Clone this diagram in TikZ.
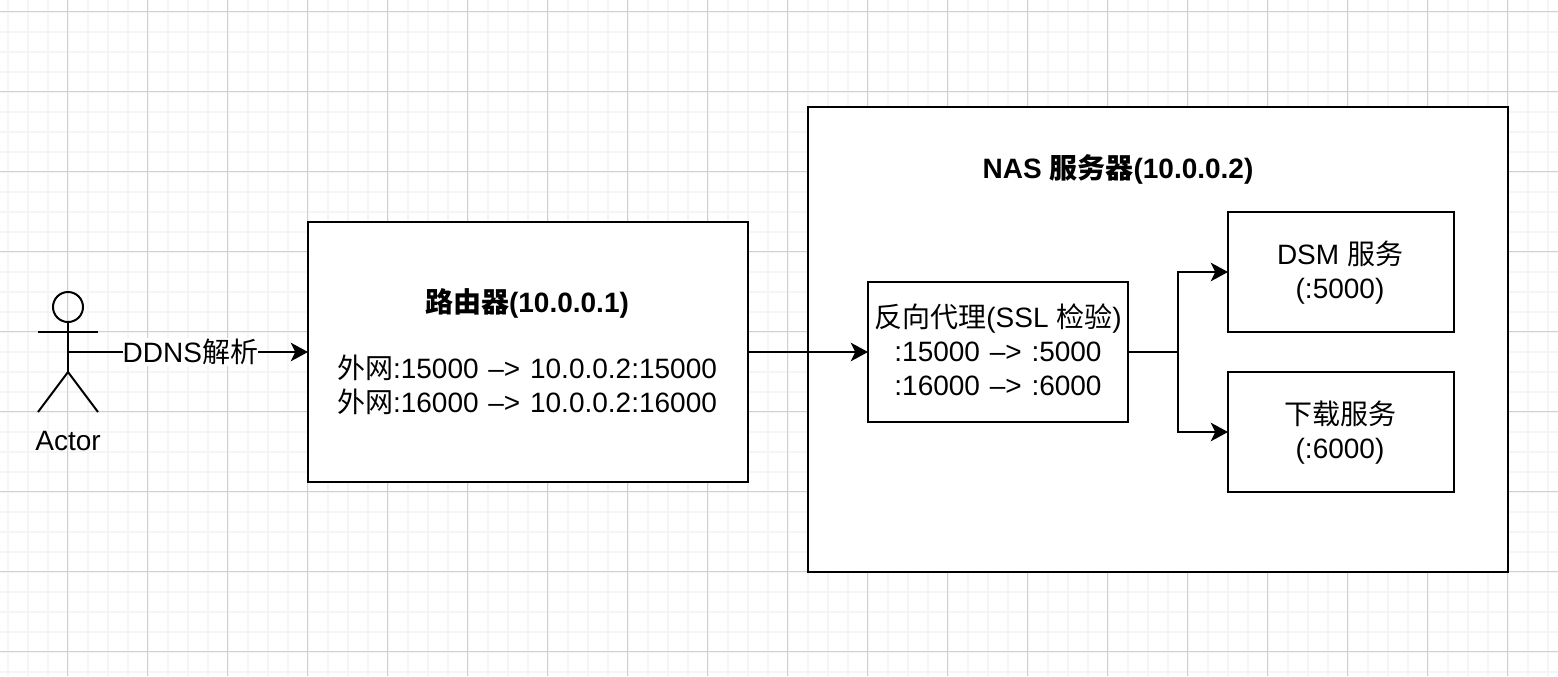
\documentclass[tikz,border=0pt]{standalone}
\usepackage{fontspec}
\setmainfont{Liberation Sans}
\newfontfamily\cjk{Noto Sans CJK SC}
\usetikzlibrary{arrows.meta}
\newcommand{\portarrow}{\hspace{1.5pt}–>\hspace{1.5pt}}
\tikzset{every picture/.style={line width=0.75pt}}
\tikzset{
  boxnode/.style={draw=black,line width=1.5pt,fill=white,inner sep=0pt,outer sep=0pt,align=center,
    font=\fontsize{21}{25.5}\selectfont},
  textnode/.style={inner sep=0pt,outer sep=0pt,align=center,font=\fontsize{21}{25.5}\selectfont},
  linkline/.style={line width=1.5pt,-{Stealth[length=13pt,width=14pt,inset=3.5pt]}},
  plainline/.style={line width=1.5pt}
}
\begin{document}
\begin{tikzpicture}[x=0.75pt,y=0.75pt,yscale=-1,xscale=1]
\useasboundingbox (0,0) rectangle (1558,676);
\fill[white] (0,0) rectangle (1558,676);

%minor grid
\foreach \gx in {7,27,...,1547}
  \draw[color={rgb, 255:red, 245; green, 245; blue, 245},line width=1.5pt] (\gx.5,0) -- (\gx.5,676);
\foreach \gy in {11,31,...,671}
  \draw[color={rgb, 255:red, 245; green, 245; blue, 245},line width=1.5pt] (0,\gy.5) -- (1558,\gy.5);
%major grid
\foreach \gx in {67,147,...,1547}
  \draw[color={rgb, 255:red, 208; green, 208; blue, 208},line width=0.75pt] (\gx.5,0) -- (\gx.5,676);
\foreach \gy in {11,91,...,651}
  \draw[color={rgb, 255:red, 208; green, 208; blue, 208},line width=0.75pt] (0,\gy.5) -- (1558,\gy.5);

%Shape: Actor
\node (actorhead) [circle,draw=black,line width=1.5pt,minimum size=22.5pt,inner sep=0pt,outer sep=0pt] at (68,307) {};
\coordinate (actorhip) at (68,372);
\coordinate (actormid) at (68,352);
\coordinate (actorarml) at (38,332);
\coordinate (actorarmr) at (98,332);
\coordinate (actorlegl) at (38,412);
\coordinate (actorlegr) at (98,412);
\draw[plainline] (actorhead.south) -- (actorhip);
\draw[plainline] (actorarml) -- (actorarmr);
\draw[plainline] (actorlegl) -- (actorhip) -- (actorlegr);

% Text Node
\node (actorlabel) [textnode] at (68,441) {Actor};

%Shape: Rectangle
\node (nasbox) [boxnode,minimum width=525pt,minimum height=348.75pt] at (1158,339.5) {};
\node (routerbox) [boxnode,minimum width=330pt,minimum height=195pt] at (528,352) {};
\node (routertext) [textnode] at (527,351.5)
  {\textbf{{\cjk 路由器}(10.0.0.1)}\\[-1.5pt] ~\\ {\cjk 外网}:15000 \portarrow{} 10.0.0.2:15000\\ {\cjk 外网}:16000 \portarrow{} 10.0.0.2:16000};
\node (proxybox) [boxnode,minimum width=195pt,minimum height=105pt] at (998,352) {};
\node (proxytext) [textnode] at (998,349.5)
  {{\cjk 反向代理}(SSL {\cjk 检验})\\ :15000 \portarrow{} :5000\\ :16000 \portarrow{} :6000};
\node (dsmbox) [boxnode,minimum width=169.5pt,minimum height=90pt] at (1341,272) {};
\node (dsmtext) [textnode] at (1340,272.5)
  {DSM {\cjk 服务}\\ (:5000)};
\node (downloadbox) [boxnode,minimum width=169.5pt,minimum height=90pt] at (1341,432) {};
\node (downloadtext) [textnode] at (1340,433)
  {{\cjk 下载服务}\\ (:6000)};

% Text Node
\node (nastitle) [textnode] at (1118,169.5) {\textbf{NAS {\cjk 服务器}(10.0.0.2)}};

%Straight Lines
\draw[linkline] (actormid) -- node (ddnslabel) [textnode,fill=white,inner xsep=0pt,inner ysep=1pt,pos=0.51] {DDNS{\cjk 解析}} (routerbox.west);
\draw[linkline] (routerbox.east) -- (proxybox.west);
\draw[linkline] (proxybox.east) -- (1178,352) |- (dsmbox.west);
\draw[linkline] (proxybox.east) -- (1178,352) |- (downloadbox.west);

\end{tikzpicture}
\end{document}
